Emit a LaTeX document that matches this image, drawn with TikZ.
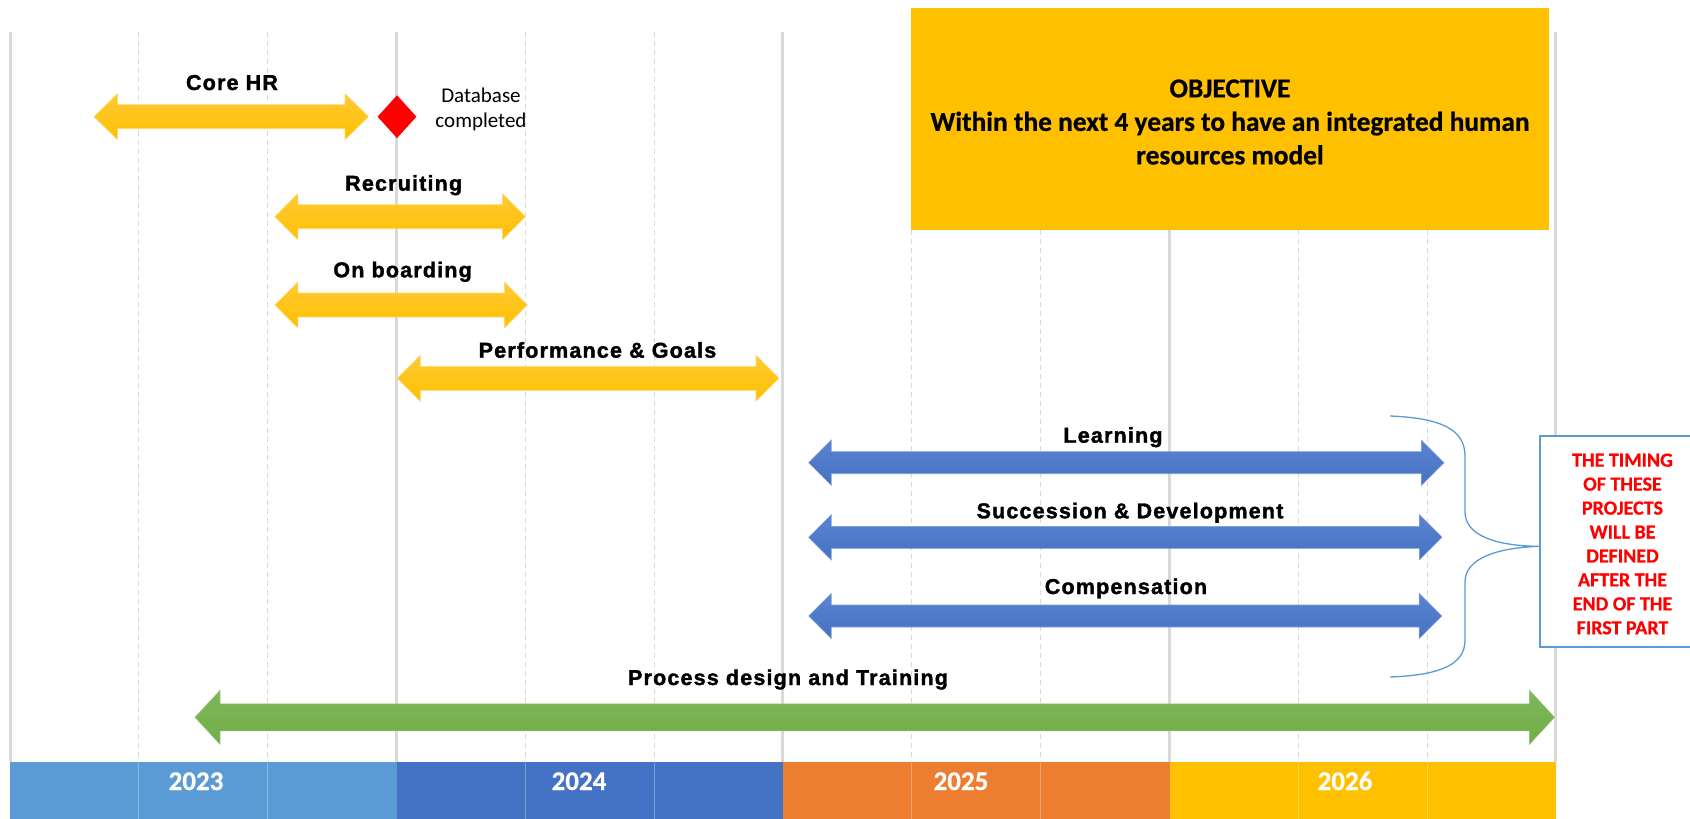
\documentclass[tikz,border=0pt]{standalone}
\usepackage{fontspec}
\setmainfont{Carlito}
\newfontfamily\lblfont[LetterSpace=5.5,FakeBold=1.6]{Liberation Sans}
\newfontfamily\calbold[FakeBold=0.6]{Carlito}
\usetikzlibrary{shapes.geometric}
\definecolor{gridc}{HTML}{D9D9D9}
\definecolor{yr23}{HTML}{5B9BD5}
\definecolor{yr24}{HTML}{4472C4}
\definecolor{yr25}{HTML}{ED7D31}
\definecolor{yr26}{HTML}{FFC000}
\definecolor{ytop}{HTML}{FFC934}
\definecolor{ybot}{HTML}{FFC000}
\definecolor{btop}{HTML}{5B83CF}
\definecolor{bbot}{HTML}{4472C4}
\definecolor{gtop}{HTML}{7FB75A}
\definecolor{gbot}{HTML}{70AD47}
\definecolor{bracec}{HTML}{5B9BD5}
\definecolor{notered}{HTML}{FF0000}
\newcommand{\blockdbl}[7]{%
  \path[#7] (#1,#3) -- ({#1+#6},{#3-#5}) -- ({#1+#6},{#3-#4}) -- ({#2-#6},{#3-#4})
   -- ({#2-#6},{#3-#5}) -- (#2,#3) -- ({#2-#6},{#3+#5}) -- ({#2-#6},{#3+#4})
   -- ({#1+#6},{#3+#4}) -- ({#1+#6},{#3+#5}) -- cycle;}
\begin{document}
\begin{tikzpicture}[x=1pt,y=-1pt,
  grids/.style={draw=gridc,line width=3pt},
  gridd/.style={draw=gridc,line width=1.2pt,dash pattern=on 5pt off 4pt},
  yarrow/.style={top color=ytop,bottom color=ybot,draw=ytop!70!white,line width=0.6pt},
  barrow/.style={top color=btop,bottom color=bbot,draw=btop!80!white,line width=0.6pt},
  garrow/.style={top color=gtop,bottom color=gbot,draw=gtop!80!white,line width=0.6pt},
  lbl/.style={font=\lblfont\bfseries\fontsize{21.5}{26}\selectfont,anchor=base,inner sep=0pt},
  yearlbl/.style={font=\calbold\bfseries\fontsize{27}{30}\selectfont,text=white,anchor=base,inner sep=0pt},
  sublines/.style={draw=white,draw opacity=0.3,line width=0.8pt},
  objbox/.style={fill=yr26,inner sep=0pt,minimum width=638,minimum height=222.5},
  objtext/.style={font=\calbold\bfseries\fontsize{27.4}{33.5}\selectfont,align=center,inner sep=0pt},
  notebox/.style={draw=bracec,line width=1.8pt,fill=white,inner sep=0pt,minimum width=166,minimum height=211},
  notetext/.style={font=\calbold\bfseries\fontsize{20}{23.95}\selectfont,text=notered,align=center,inner sep=0pt},
  brace/.style={draw=bracec,line width=1.3pt},
  dbtext/.style={font=\fontsize{21}{25}\selectfont,align=center,inner sep=0pt},
  milestone/.style={diamond,fill=red,inner sep=0pt,minimum width=39,minimum height=43}
]
\useasboundingbox (0,0) rectangle (1690,819);
% grid lines
\foreach \k in {1,2,4,5,7,8,10,11} \draw[gridd] ({10+128.83*\k},32) -- ({10+128.83*\k},762);
\foreach \k in {0,3,6,9,12} \draw[grids] ({10+128.83*\k},32) -- ({10+128.83*\k},762);
% year band
\fill[yr23] (10,762) rectangle (396.5,819);
\fill[yr24] (396.5,762) rectangle (783,819);
\fill[yr25] (783,762) rectangle (1169.5,819);
\fill[yr26] (1169.5,762) rectangle (1556,819);
\foreach \k in {1,2,4,5,7,8,10,11} \draw[sublines] ({10+128.83*\k},762) -- ({10+128.83*\k},819);
\node[yearlbl] (y23) at (196,790) {2023};
\node[yearlbl] (y24) at (579,790) {2024};
\node[yearlbl] (y25) at (961,790) {2025};
\node[yearlbl] (y26) at (1345,790) {2026};
% objective
\node[objbox] (obj) at (1230,118.75) {};
\node[objtext] (objt) at (1230,122) {OBJECTIVE\\Within the next 4 years to have an integrated human\\resources model};
% yellow arrows
\blockdbl{94}{368.5}{116.7}{12}{23}{23.5}{yarrow}
\node[lbl] (corehr) at (232,90) {Core HR};
\node[milestone] (db) at (397,116.7) {};
\node[dbtext] (dbt) at (481,109) {Database\\completed};
\blockdbl{274.8}{525.5}{216.7}{12}{23}{23}{yarrow}
\node[lbl] (recr) at (403.7,190.7) {Recruiting};
\blockdbl{274.8}{527.4}{305}{12}{23}{23}{yarrow}
\node[lbl] (onb) at (402.6,277.3) {On boarding};
\blockdbl{397.3}{779}{378.3}{12}{23}{23}{yarrow}
\node[lbl] (perf) at (597.5,357.7) {Performance \& Goals};
% blue arrows
\blockdbl{808.7}{1444}{462.7}{11}{22.5}{22.5}{barrow}
\node[lbl] (learn) at (1113,442.7) {Learning};
\blockdbl{808.7}{1442}{537.3}{11}{22.5}{22.5}{barrow}
\node[lbl] (succ) at (1130,518.3) {Succession \& Development};
\blockdbl{808.7}{1441.7}{616}{11}{22.5}{22.5}{barrow}
\node[lbl] (comp) at (1126,594) {Compensation};
% green arrow
\blockdbl{195}{1554.5}{717.3}{13.5}{27}{25}{garrow}
\node[lbl] (proc) at (788,685) {Process design and Training};
% note and brace
\node[notebox] (note) at (1623,541.3) {};
\node[notetext] (notet) at (1622.5,544) {THE TIMING\\OF THESE\\PROJECTS\\WILL BE\\DEFINED\\AFTER THE\\END OF THE\\FIRST PART};
\coordinate (bt) at (1390,416);
\coordinate (bb) at (1390,677);
\draw[brace] (bt) .. controls (1442,418) and (1465,430) .. (1465,456) -- (1465,512)
  .. controls (1465,535) and (1495,546) .. ([yshift=-5pt]note.west)
  .. controls (1495,548) and (1465,559) .. (1465,582) -- (1465,640)
  .. controls (1465,664) and (1442,675) .. (bb);
\end{tikzpicture}
\end{document}
